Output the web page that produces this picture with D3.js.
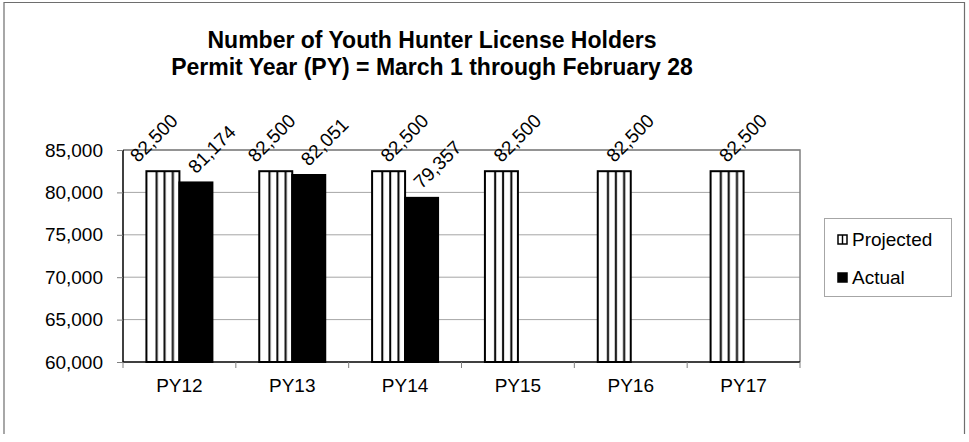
<!doctype html>
<html>
  <head>
    <script src="https://cdn.jsdelivr.net/npm/d3@7/dist/d3.min.js"></script>
    <style>
      body { margin: 0; background: #fff; }
      text { font-family: Arial, "Liberation Sans", sans-serif; }
    </style>
  </head>
  <body>
    <svg id="chart" width="969" height="442"></svg>
    <script>
      var categories = ["PY12", "PY13", "PY14", "PY15", "PY16", "PY17"];
      var projected = [82500, 82500, 82500, 82500, 82500, 82500];
      var actual = [81174, 82051, 79357, null, null, null];
      var seriesNames = ["Projected", "Actual"];
      var yTicks = [60000, 65000, 70000, 75000, 80000, 85000];
      var titleLines = ["Number of Youth Hunter License Holders",
                        "Permit Year (PY) = March 1 through February 28"];

      var svg = d3.select("#chart");
      var plotL = 123, plotR = 800, plotT = 150, plotB = 362;

      // striped fill for projected bars, three vertical lines per bar
      var defs = svg.append("defs");
      var pat = defs.append("pattern")
        .attr("id", "vstripe")
        .attr("patternUnits", "objectBoundingBox")
        .attr("patternContentUnits", "objectBoundingBox")
        .attr("width", 1).attr("height", 1);
      pat.append("rect").attr("width", 1).attr("height", 1).attr("fill", "#fff");
      pat.selectAll("rect.s").data([0.28, 0.52, 0.77]).enter().append("rect")
        .attr("class", "s").attr("x", d => d).attr("width", 0.06).attr("height", 1).attr("fill", "#000");
      var pat2 = defs.append("pattern")
        .attr("id", "vstripeSmall")
        .attr("patternUnits", "objectBoundingBox")
        .attr("patternContentUnits", "objectBoundingBox")
        .attr("width", 1).attr("height", 1);
      pat2.append("rect").attr("width", 1).attr("height", 1).attr("fill", "#fff");
      pat2.append("rect").attr("x", 0.42).attr("width", 0.16).attr("height", 1).attr("fill", "#000");

      // outer chart border (bottom is cut off)
      svg.append("path")
        .attr("d", "M4,434V2.5H964.5V434")
        .attr("fill", "none").attr("stroke", "#6e6e6e").attr("stroke-width", 1.2);

      svg.selectAll("text.title")
        .data(titleLines)
        .enter().append("text")
          .attr("class", "title")
          .attr("x", 432)
          .attr("y", (d, i) => 48 + i * 27)
          .attr("text-anchor", "middle")
          .style("font-size", "23px")
          .style("font-weight", "bold")
          .text(d => d);

      var y = d3.scaleLinear().domain([60000, 85000]).range([plotB, plotT]);
      var x = d3.scaleBand().domain(categories).range([plotL, plotR]);
      var x1 = d3.scaleBand().domain(seriesNames).range([0, x.bandwidth()]).paddingOuter(0.71);

      // gridlines
      svg.append("g").selectAll("line")
        .data(yTicks.slice(1))
        .enter().append("line")
          .attr("x1", plotL).attr("x2", plotR)
          .attr("y1", d => y(d)).attr("y2", d => y(d))
          .attr("stroke", "#a6a6a6");

      // plot area border (top/right)
      svg.append("path")
        .attr("d", `M${plotL},${plotT}H${plotR}V${plotB}`)
        .attr("fill", "none").attr("stroke", "#808080").attr("stroke-width", 1.5);

      var rows = categories.map((c, i) => ({cat: c, values: [
        {series: "Projected", value: projected[i]},
        {series: "Actual", value: actual[i]}
      ]}));

      var groups = svg.selectAll("g.cat")
        .data(rows)
        .enter().append("g")
          .attr("class", "cat")
          .attr("transform", d => `translate(${x(d.cat)},0)`);

      groups.selectAll("rect")
        .data(d => d.values.filter(v => v.value != null))
        .enter().append("rect")
          .attr("x", d => x1(d.series))
          .attr("width", x1.bandwidth())
          .attr("y", d => y(d.value))
          .attr("height", d => y(60000) - y(d.value))
          .attr("fill", d => d.series == "Projected" ? "url(#vstripe)" : "#000")
          .attr("stroke", "#000")
          .attr("stroke-width", 2);

      // the first two projected labels were moved left in the original
      var nudge = {PY12: -25, PY13: -20};
      groups.each(function(row) {
        d3.select(this).selectAll("text.lbl")
          .data(row.values.filter(v => v.value != null))
          .enter().append("text")
            .attr("class", "lbl")
            .attr("transform", d => {
              var px = x1(d.series) + x1.bandwidth() / 2 + (d.series == "Projected" ? (nudge[row.cat] || 0) : 0);
              var py = y(d.value) - 8;
              return `translate(${px},${py}) rotate(-45)`;
            })
            .style("font-size", "19px")
            .text(d => d3.format(",")(d.value));
      });

      // y axis
      var yAxis = svg.append("g")
        .attr("transform", `translate(${plotL},0)`)
        .call(d3.axisLeft(y).tickValues(yTicks).tickFormat(d3.format(",")).tickSize(6).tickPadding(14));
      yAxis.selectAll("text").style("font-size", "19px").attr("fill", "#000");
      yAxis.selectAll("line").attr("stroke", "#808080");
      yAxis.select(".domain").attr("stroke", "#000").attr("stroke-width", 1.5).attr("d", `M0,${plotT}V${plotB}`);

      // x axis
      var xAxis = svg.append("g")
        .attr("transform", `translate(0,${plotB})`)
        .call(d3.axisBottom(x).tickSize(0).tickPadding(17));
      xAxis.selectAll("text").style("font-size", "19px").attr("fill", "#000");
      xAxis.select(".domain").attr("stroke", "#000").attr("stroke-width", 1.5).attr("d", `M${plotL},0H${plotR}`);
      xAxis.selectAll("line.bound")
        .data(categories.map(c => x(c)).concat([plotR]))
        .enter().append("line")
          .attr("class", "bound")
          .attr("x1", d => d).attr("x2", d => d)
          .attr("y1", 0).attr("y2", 6)
          .attr("stroke", "#808080");

      // legend
      var legend = svg.append("g");
      legend.append("rect")
        .attr("x", 824.5).attr("y", 218.5).attr("width", 127).attr("height", 78)
        .attr("fill", "#fff").attr("stroke", "#a6a6a6");
      var items = legend.selectAll("g.item")
        .data(seriesNames)
        .enter().append("g")
          .attr("class", "item")
          .attr("transform", (d, i) => `translate(838,${246 + i * 38})`);
      items.append("rect")
        .attr("x", 0).attr("y", -11).attr("width", 9).attr("height", 9)
        .attr("fill", d => d == "Projected" ? "url(#vstripeSmall)" : "#000")
        .attr("stroke", "#000").attr("stroke-width", 1.5);
      items.append("text")
        .attr("x", 14).attr("y", 0)
        .style("font-size", "19px")
        .text(d => d);
    </script>
  </body>
</html>
